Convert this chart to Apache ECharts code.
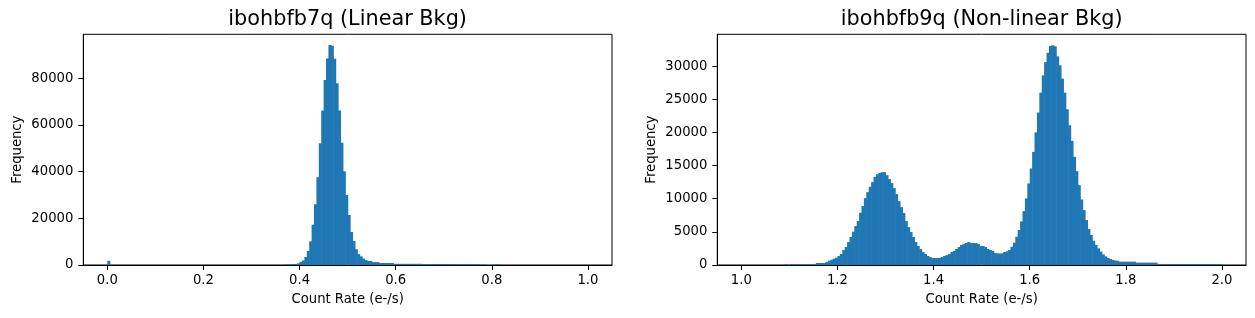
<!DOCTYPE html>
<html>
<head>
<meta charset="utf-8">
<script src="https://cdn.jsdelivr.net/npm/echarts@6/dist/echarts.min.js"></script>
<style>
html,body{margin:0;padding:0;background:#fff;}
#chart{width:1255px;height:318px;}
</style>
</head>
<body>
<div id="chart"></div>
<script>
// ---- Data ----
const leftTitle = "ibohbfb7q (Linear Bkg)";
const rightTitle = "ibohbfb9q (Non-linear Bkg)";
const xAxisName = "Count Rate (e-/s)";
const yAxisName = "Frequency";

// Left histogram: 200 bins from 0.0 to 1.0
const leftBinStart = 0.0;
const leftBinWidth = 0.005;
const leftCounts = [
  1800,0,0,0,0,0,0,0,0,0, 0,0,0,0,0,0,0,0,0,0,
  0,0,0,0,0,0,0,0,0,0, 0,0,0,0,0,0,0,0,0,0,
  0,0,0,0,0,0,0,0,0,0, 0,0,0,0,0,0,0,0,0,0,
  0,0,0,0,0,0,0,0,0,0, 0,0,0,150,200,250,300,350,430,730,
  1370,1930,3430,6000,10160,17270,26060,37630,52160,66220,
  79290,88590,94300,94000,88420,77880,66220,52420,40160,30000,
  21430,14140,10290,6750,4670,3700,2760,2100,1710,1710,
  1230,1230,1230,860,860,860,860,860,860,500,
  500,500,500,500,500,500,500,500,500,500,
  500,430,430,430,430,430,430,430,430,430,
  430,430,430,380,380,380,380,380,380,380,
  380,380,380,380,380,0,250,0,0,0,
  0,300,300,0,0,0,0,0,0,0,
  0,0,0,0,0,0,0,0,0,0,
  0,0,0,0,0,0,0,0,0,0
];

// Right histogram: 200 bins from 1.0 to 2.0
const rightBinStart = 1.0;
const rightBinWidth = 0.005;
const rightCounts = [
  0,0,0,0,0,0,0,0,0,0, 0,0,0,0,0,0,0,0,150,0,
  100,100,100,100,100,100,100,100,100,100,
  100,300,300,300,300,450,650,800,950,1100,
  1360,1660,2260,2710,3460,4220,5020,5870,6630,7880,
  8890,10090,10990,11800,12500,13300,13700,13900,14000,14000,
  13550,12950,12350,11600,10690,9640,8730,7830,6630,5720,
  4970,4220,3460,2860,2410,1960,1660,1360,1200,1050,
  1050,1050,1050,1200,1360,1510,1660,1960,2110,2410,
  2710,3010,3160,3310,3460,3310,3310,3310,3160,2860,
  2860,2710,2410,2260,2110,1810,1760,1730,1760,1960,
  2060,2260,2760,3360,4260,5270,6580,8130,10040,12300,
  14560,17060,20000,23000,26000,28600,30600,32000,33030,33130,
  32980,31480,30120,28110,26000,23490,21080,18720,16310,14160,
  12050,9890,8280,6780,5420,4520,3660,3010,2510,2010,
  1600,1300,1050,900,760,680,620,500,500,500,
  500,500,500,500,350,350,350,350,350,350,
  350,350,350,150,150,150,150,150,150,150,
  150,150,150,150,150,150,150,150,150,150,
  150,150,150,150,150,150,150,150,150,150
];

const leftXTicks = [0.0, 0.2, 0.4, 0.6, 0.8, 1.0];
const leftYTicks = [0, 20000, 40000, 60000, 80000];
const rightXTicks = [1.0, 1.2, 1.4, 1.6, 1.8, 2.0];
const rightYTicks = [0, 5000, 10000, 15000, 20000, 25000, 30000];

// ---- Build ----
function toBins(start, width, counts) {
  return counts.map((c, i) => [start + i * width, start + (i + 1) * width, c]);
}
const barColor = '#1f77b4';
const FONT = 'DejaVu Sans';

function renderBar(params, api) {
  const p0 = api.coord([api.value(0), api.value(2)]);
  const p1 = api.coord([api.value(1), 0]);
  return {
    type: 'rect',
    shape: { x: p0[0], y: p0[1], width: p1[0] - p0[0] + 0.6, height: p1[1] - p0[1] },
    style: { fill: barColor }
  };
}

const tickFont = { fontFamily: FONT, fontSize: 13.2, color: '#000' };

function xAxisCfg(gridIndex, min, max, ticks) {
  return {
    type: 'value', gridIndex, min, max,
    name: xAxisName, nameLocation: 'middle', nameGap: 28,
    nameTextStyle: { fontFamily: FONT, fontSize: 13.2, color: '#000' },
    axisLine: { show: true, onZero: false, lineStyle: { color: '#000', width: 1 } },
    axisTick: { show: true, length: 5, lineStyle: { color: '#000', width: 1 }, customValues: ticks },
    axisLabel: Object.assign({ margin: 9, customValues: ticks, formatter: v => v.toFixed(1) }, tickFont),
    splitLine: { show: false }
  };
}
function yAxisCfg(gridIndex, max, ticks) {
  return {
    type: 'value', gridIndex, min: 0, max,
    name: yAxisName, nameLocation: 'middle', nameGap: 59.5,
    nameTextStyle: { fontFamily: FONT, fontSize: 13.2, color: '#000' },
    axisLine: { show: true, onZero: false, lineStyle: { color: '#000', width: 1 } },
    axisTick: { show: true, length: 5, lineStyle: { color: '#000', width: 1 }, customValues: ticks },
    axisLabel: Object.assign({ margin: 10, customValues: ticks, formatter: v => String(v) }, tickFont),
    splitLine: { show: false }
  };
}

const chart = echarts.init(document.getElementById('chart'), null, { renderer: 'canvas' });
chart.setOption({
  animation: false,
  backgroundColor: '#fff',
  graphic: [
    { type: 'text', x: 347.65, y: 19.5, style: { text: leftTitle, font: '20.8px "DejaVu Sans"', fill: '#000', align: 'center', verticalAlign: 'middle' } },
    { type: 'text', x: 981.65, y: 19.5, style: { text: rightTitle, font: '20.8px "DejaVu Sans"', fill: '#000', align: 'center', verticalAlign: 'middle' } }
  ],
  grid: [
    { left: 83.3, top: 34.3, width: 528.7, height: 230.7, show: true, borderColor: '#000', borderWidth: 1, containLabel: false },
    { left: 717.3, top: 34.3, width: 528.7, height: 230.7, show: true, borderColor: '#000', borderWidth: 1, containLabel: false }
  ],
  xAxis: [
    xAxisCfg(0, -0.05, 1.05, leftXTicks),
    xAxisCfg(1, 0.95, 2.05, rightXTicks)
  ],
  yAxis: [
    yAxisCfg(0, 98900, leftYTicks),
    yAxisCfg(1, 34800, rightYTicks)
  ],
  series: [
    { type: 'custom', xAxisIndex: 0, yAxisIndex: 0, renderItem: renderBar,
      encode: { x: [0, 1], y: 2 }, data: toBins(leftBinStart, leftBinWidth, leftCounts) },
    { type: 'custom', xAxisIndex: 1, yAxisIndex: 1, renderItem: renderBar,
      encode: { x: [0, 1], y: 2 }, data: toBins(rightBinStart, rightBinWidth, rightCounts) }
  ]
});
</script>
</body>
</html>
